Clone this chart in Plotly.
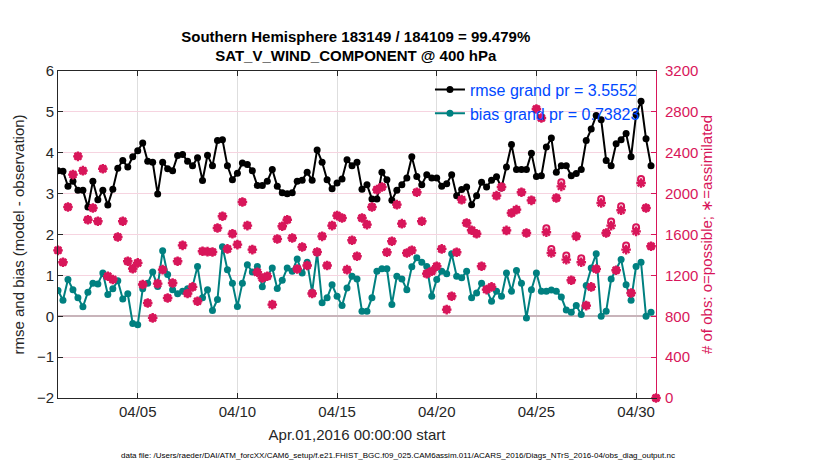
import pandas as pd
import plotly.graph_objects as go

TITLE = ('<b>Southern Hemisphere 183149 / 184109 = 99.479%</b><br>'
         '<b>SAT_V_WIND_COMPONENT @ 400 hPa</b>')
DATA_FILE = ('data file: /Users/raeder/DAI/ATM_forcXX/CAM6_setup/f.e21.FHIST_BGC.f09_025.CAM6assim.011/'
             'ACARS_2016/Diags_NTrS_2016-04/obs_diag_output.nc')

FONT = 'Liberation Sans, Arial, Helvetica, sans-serif'
AXIS_GREY = '#262626'
CRIMSON = 'rgb(216,22,90)'
TEAL = 'rgb(0,128,128)'
LEGEND_BLUE = 'rgb(0,72,255)'

rmse_name = 'rmse grand pr = 3.5552'
bias_name = 'bias grand pr = 0.73823'

# 6-hourly values, 2016-04-01 00Z .. 2016-04-30 18Z
rmse = [
    3.56, 3.55, 3.18, 3.30, 3.08, 3.08, 2.67, 3.30, 2.85, 3.08,
    2.72, 3.11, 3.62, 3.81, 3.65, 3.90, 4.05, 4.24, 3.79, 3.77,
    2.99, 3.77, 3.61, 3.56, 3.93, 3.96, 3.79, 3.68, 3.88, 3.32,
    3.94, 3.68, 4.30, 4.32, 3.68, 3.34, 3.50, 3.75, 3.71, 3.56,
    3.20, 3.20, 3.30, 3.59, 3.18, 3.02, 3.00, 3.02, 3.30, 3.33,
    3.52, 3.33, 4.07, 3.77, 3.34, 3.12, 3.26, 3.36, 3.83, 3.68,
    3.77, 3.11, 3.22, 2.87, 2.87, 3.52, 3.34, 2.84, 3.08, 3.22,
    3.38, 3.90, 3.42, 3.22, 3.46, 3.38, 3.38, 3.18, 3.24, 3.46,
    2.95, 3.10, 3.16, 2.73, 2.95, 3.28, 3.16, 3.33, 3.41, 3.14,
    3.65, 4.20, 3.59, 3.59, 3.59, 3.99, 3.42, 3.44, 4.14, 4.36,
    3.52, 3.68, 3.68, 3.44, 3.49, 3.59, 4.30, 4.58, 4.91, 4.81,
    3.81, 3.68, 4.22, 4.32, 4.47, 3.90, 4.93, 5.26, 4.34, 3.68,
]

bias = [
    0.63, 0.39, 0.90, 0.65, 0.45, 0.23, 0.59, 0.81, 0.79, 1.06,
    0.53, 0.67, 0.87, 0.42, 0.55, -0.18, -0.21, 0.67, 0.81, 1.08,
    0.73, 1.60, 1.02, 0.65, 0.55, 0.61, 0.67, 0.73, 1.22, 0.45,
    0.65, 0.14, 0.41, 1.70, 1.14, 0.81, 0.24, 0.81, 1.26, 1.08,
    1.22, 0.72, 0.98, 1.18, 0.68, 0.88, 1.18, 1.10, 1.40, 1.06,
    1.32, 0.59, 1.55, 0.33, 0.45, 0.77, 0.49, 0.26, 0.69, 0.98,
    0.91, 0.12, 0.12, 0.45, 1.10, 1.16, 1.16, 0.29, 0.98, 0.91,
    0.65, 1.21, 1.43, 1.32, 1.22, 0.49, 0.90, 1.10, 1.04, 1.53,
    0.98, 0.94, 1.10, 0.45, 0.57, 0.81, 0.65, 0.37, 0.61, 0.49,
    1.06, 0.61, 1.12, 0.81, -0.04, 0.65, 1.06, 0.61, 0.61, 0.64,
    0.61, 0.47, 0.15, 0.10, 0.26, 0.04, 0.75, 1.18, 1.53, 0.00,
    0.12, 0.91, 1.14, 1.39, 0.77, 0.39, 1.22, 1.32, 0.00, 0.10,
]

# obs counts run one step further (2016-05-01 00Z, empty bin)
obs_assimilated = [
    1445, 1328, 1869, 2186, 2365, 2225, 1745, 1860, 1729, 2244,
    1191, 1159, 1576, 1729, 1338, 1266, 1322, 1110, 930, 784,
    1119, 1256, 979, 1126, 1338, 1494, 1022, 1087, 947, 1436,
    1432, 1429, 1664, 1778, 1459, 1608, 1501, 1918, 1687, 1452,
    1230, 1175, 1191, 914, 1556, 1680, 1745, 1566, 1263, 1478,
    1296, 1022, 1429, 1582, 1296, 1687, 1785, 1762, 1256, 1543,
    1387, 1762, 1697, 1869, 2039, 2065, 1426, 1534, 1892, 1706,
    1419, 1445, 2013, 1729, 1217, 1240, 1289, 1459, 865, 996,
    1426, 1941, 1713, 1641, 1608, 1289, 1061, 1087, 1980, 2065,
    1640, 1811, 1843, 2013, 1615, 1934, 2828, 2740, 1622, 1419,
    1957, 2071, 1354, 1152, 1582, 1328, 904, 1087, 1263, 1908,
    1615, 1687, 1250, 1837, 1452, 1028, 1631, 2104, 1860, 1485,
    0,
]

obs_possible = [
    1445, 1328, 1869, 2186, 2365, 2225, 1745, 1860, 1729, 2244,
    1191, 1159, 1576, 1729, 1338, 1266, 1322, 1110, 930, 784,
    1119, 1256, 979, 1126, 1338, 1494, 1022, 1087, 947, 1436,
    1432, 1429, 1664, 1778, 1459, 1608, 1501, 1918, 1687, 1452,
    1230, 1175, 1191, 914, 1556, 1680, 1745, 1566, 1263, 1478,
    1296, 1022, 1429, 1582, 1296, 1687, 1785, 1762, 1256, 1543,
    1387, 1762, 1697, 1869, 2039, 2065, 1426, 1534, 1892, 1706,
    1419, 1445, 2013, 1729, 1217, 1240, 1289, 1459, 865, 996,
    1426, 1941, 1713, 1641, 1608, 1289, 1061, 1087, 1980, 2065,
    1640, 1811, 1843, 2013, 1615, 1934, 2828, 2740, 1662, 1459,
    1957, 2111, 1394, 1152, 1582, 1368, 904, 1087, 1263, 1948,
    1615, 1727, 1250, 1877, 1492, 1028, 1671, 2144, 1860, 1485,
    0,
]

tick_dates = ['2016-04-05', '2016-04-10', '2016-04-15', '2016-04-20', '2016-04-25', '2016-04-30']
tick_labels = ['04/05', '04/10', '04/15', '04/20', '04/25', '04/30']


def generate_plot() -> go.Figure:
    times = pd.date_range('2016-04-01 00:00', periods=len(obs_assimilated), freq='6h')
    fig = go.Figure()

    fig.add_trace(go.Scatter(
        name=rmse_name, x=times[:len(rmse)], y=rmse, mode='lines+markers',
        line=dict(color='black', width=2), marker=dict(symbol='circle', size=7, color='black'),
    ))
    fig.add_trace(go.Scatter(
        name=bias_name, x=times[:len(bias)], y=bias, mode='lines+markers',
        line=dict(color=TEAL, width=2), marker=dict(symbol='circle', size=7, color=TEAL),
    ))
    # obs counts on the right axis, not in the legend
    fig.add_trace(go.Scatter(
        name='possible', x=times, y=obs_possible, yaxis='y2', mode='markers', showlegend=False,
        cliponaxis=False,
        marker=dict(symbol='circle-open', size=6, color=CRIMSON, line=dict(color=CRIMSON, width=2)),
    ))
    fig.add_trace(go.Scatter(
        name='assimilated', x=times, y=obs_assimilated, yaxis='y2', mode='markers', showlegend=False,
        cliponaxis=False,
        marker=dict(symbol='asterisk-open', size=8, color=CRIMSON, line=dict(color=CRIMSON, width=2.4)),
    ))

    # the page body adds an 8px offset, so the margins are trimmed to put the axes box where it belongs
    fig.update_layout(
        width=830, height=470,
        margin=dict(l=50, r=182, t=63, b=80, autoexpand=False),
        paper_bgcolor='white', plot_bgcolor='white',
        font=dict(family=FONT, size=15, color=AXIS_GREY),
        title=dict(text=TITLE, x=0.419, xanchor='center', y=0.928, yanchor='middle',
                   font=dict(family=FONT, size=15, color='black'), automargin=False),
        showlegend=True,
        legend=dict(x=0.622, y=0.995, xanchor='left', yanchor='top', bgcolor='rgba(0,0,0,0)',
                    font=dict(family=FONT, size=16, color=LEGEND_BLUE), tracegroupgap=0,
                    itemwidth=30),
        xaxis=dict(
            type='date', range=['2016-04-01 00:00', '2016-05-01 00:00'], automargin=False,
            tickmode='array', tickvals=tick_dates, ticktext=tick_labels,
            ticks='inside', ticklen=5, tickcolor=AXIS_GREY,
            showline=True, linecolor=AXIS_GREY, linewidth=1, mirror='ticks',
            showgrid=True, gridcolor='rgb(222,222,222)', gridwidth=1, zeroline=False,
            tickfont=dict(size=15, color=AXIS_GREY),
            title=dict(text='Apr.01,2016 00:00:00 start', font=dict(size=15, color=AXIS_GREY), standoff=10),
        ),
        yaxis=dict(
            range=[-2, 6], dtick=1, ticks='inside', ticklen=5, tickcolor=AXIS_GREY, automargin=False,
            showline=True, linecolor=AXIS_GREY, linewidth=1,
            showgrid=True, gridcolor='rgb(246,212,224)', gridwidth=1,
            zeroline=True, zerolinecolor='rgb(200,180,186)', zerolinewidth=2,
            tickfont=dict(size=15, color=AXIS_GREY),
            title=dict(text='rmse and bias (model - observation)', font=dict(size=15, color=AXIS_GREY),
                       standoff=8),
        ),
        yaxis2=dict(
            overlaying='y', side='right', range=[0, 3200], dtick=400, automargin=False,
            ticks='inside', ticklen=5, tickcolor=CRIMSON, ticklabelstandoff=5,
            showline=True, linecolor=CRIMSON, linewidth=1,
            showgrid=False, zeroline=False,
            tickfont=dict(size=15, color=CRIMSON),
            title=dict(text='# of obs: o=possible; \u2217=assimilated', font=dict(size=15, color=CRIMSON),
                       standoff=4),
        ),
    )

    fig.add_annotation(
        text=DATA_FILE, xref='paper', yref='paper', x=0.569, y=-0.177,
        xanchor='center', yanchor='middle', showarrow=False,
        font=dict(family=FONT, size=8, color='black'),
    )
    return fig


fig = generate_plot()
fig.write_html("out.html")
